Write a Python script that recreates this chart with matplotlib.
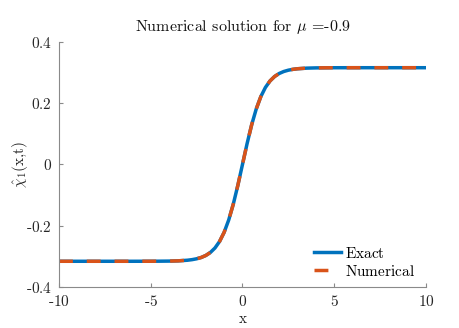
import numpy as np
import matplotlib
matplotlib.use('Agg')
import matplotlib.pyplot as plt
from matplotlib.ticker import FuncFormatter

plt.rcParams['mathtext.fontset'] = 'cm'
plt.rcParams['font.family'] = 'DejaVu Serif'

# values (odd symmetric about x=0)
x_pos = [0.0, 0.25, 0.5, 0.75, 1.0, 1.25, 1.5, 1.75, 2.0, 2.25, 2.5, 2.75,
         3.0, 3.5, 4.0, 4.5, 5.0, 6.0, 7.0, 8.0, 9.0, 10.0]
chi_pos = [0.0, 0.0677, 0.1294, 0.1812, 0.2216, 0.2515, 0.2727, 0.2873,
           0.2971, 0.3036, 0.3079, 0.3107, 0.3126, 0.3146, 0.3154, 0.3157,
           0.3159, 0.3160, 0.3160, 0.3160, 0.3160, 0.3160]

x = np.array([-v for v in x_pos[:0:-1]] + x_pos)
exact = np.array([-v for v in chi_pos[:0:-1]] + chi_pos)
numerical = exact.copy()

xticks = [-10, -5, 0, 5, 10]
yticks = [-0.4, -0.2, 0, 0.2, 0.4]

fig = plt.figure(figsize=(4.59, 3.28), dpi=100)
ax = fig.add_axes([0.1285, 0.125, 0.7995, 0.747])

ax.plot(x, exact, color='#0072BD', lw=2.5, label=r'$\text{Exact}$')
ax.plot(x, numerical, color='#D95319', lw=2.5, dashes=(4, 4),
        label=r'$\text{Numerical}$')

ax.set_xlim(-10, 10)
ax.set_ylim(-0.4, 0.4)
ax.set_xticks(xticks)
ax.set_yticks(yticks)
fmt = FuncFormatter(lambda v, p: r'$\text{%g}$' % v)
ax.xaxis.set_major_formatter(fmt)
ax.yaxis.set_major_formatter(fmt)

for s in ['top', 'right']:
    ax.spines[s].set_visible(False)
for s in ['left', 'bottom']:
    ax.spines[s].set_color('#8a8a8a')
    ax.spines[s].set_linewidth(0.8)
ax.tick_params(direction='in', length=3, width=0.8, color='#8a8a8a',
               labelsize=11, labelcolor='#262626', pad=5)

ax.set_title(r'$\text{Numerical solution for }\mu\text{ =-0.9}$',
             fontsize=11.5, color='#111111', pad=8)
ax.set_xlabel(r'$\text{x}$', fontsize=11, color='#262626', labelpad=2)
ax.set_ylabel(r'$\hat{\chi}_1\text{(x,t)}$', fontsize=11, color='#262626')
ax.yaxis.set_label_coords(-0.08, 0.5)

ax.legend(loc='lower right', bbox_to_anchor=(1.0, -0.01), frameon=False,
          fontsize=11, handlelength=1.75, handletextpad=0.3,
          labelspacing=0.2, borderaxespad=0.3)

fig.savefig('out.png', dpi=100)
